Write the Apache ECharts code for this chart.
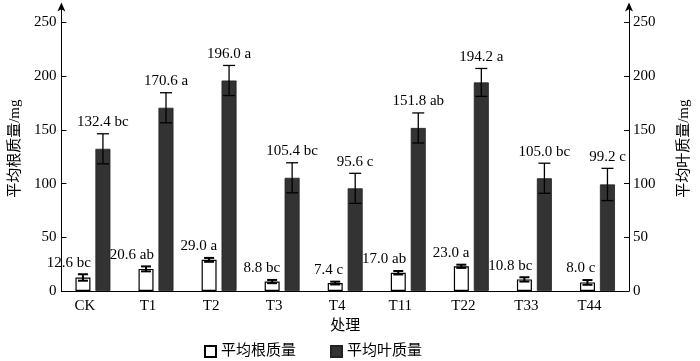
<!DOCTYPE html>
<html>
<head>
<meta charset="utf-8">
<script src="https://cdn.jsdelivr.net/npm/echarts@6/dist/echarts.min.js"></script>
<style>html,body{margin:0;padding:0;background:#fff;}#c{width:700px;height:361px;}</style>
</head>
<body>
<div id="c"></div>
<script>
const categories = ['CK', 'T1', 'T2', 'T3', 'T4', 'T11', 'T22', 'T33', 'T44'];
const rootMass = [12.6, 20.6, 29.0, 8.8, 7.4, 17.0, 23.0, 10.8, 8.0];
const rootErr = [3.0, 2.3, 1.8, 1.5, 1.3, 1.6, 1.5, 2.0, 2.2];
const rootLetters = ['bc', 'ab', 'a', 'bc', 'c', 'ab', 'a', 'bc', 'c'];
const leafMass = [132.4, 170.6, 196.0, 105.4, 95.6, 151.8, 194.2, 105.0, 99.2];
const leafErr = [14, 14, 14, 14, 14, 14, 13, 14, 15];
const leafLetters = ['bc', 'a', 'a', 'bc', 'c', 'ab', 'a', 'bc', 'c'];
const yTicks = [0, 50, 100, 150, 200, 250];

const FONT = '"Liberation Serif", "Noto Sans CJK SC", serif';

function errRender(offset, capHalf, lw, letters, align, labelDx) {
  return function (params, api) {
    const i = api.value(0), v = api.value(1), e = api.value(2);
    const x = api.coord([i, 0])[0] + offset;
    const yTop = api.coord([i, v + e])[1];
    const yBot = api.coord([i, v - e])[1];
    const st = { stroke: '#000', lineWidth: lw };
    return {
      type: 'group',
      children: [
        { type: 'line', shape: { x1: x, y1: yTop, x2: x, y2: yBot }, style: st },
        { type: 'line', shape: { x1: x - capHalf, y1: yTop, x2: x + capHalf, y2: yTop }, style: st },
        { type: 'line', shape: { x1: x - capHalf, y1: yBot, x2: x + capHalf, y2: yBot }, style: st },
        { type: 'text', style: { text: v.toFixed(1) + ' ' + letters[i], x: x + labelDx, y: yTop - 4,
            align: align, verticalAlign: 'bottom', fontSize: 15, fontFamily: FONT, fill: '#000' } }
      ]
    };
  };
}

const chart = echarts.init(document.getElementById('c'));
const yAxisCommon = {
  type: 'value', min: 0, max: 265, interval: 50,
  nameLocation: 'middle', nameRotate: 90,
  nameTextStyle: { fontSize: 15, fontFamily: FONT, color: '#000' },
  axisLine: { show: true, lineStyle: { color: '#000', width: 1 }, symbol: ['none', 'arrow'], symbolSize: [6, 9], symbolOffset: [0, 4] },
  axisTick: { show: true, inside: true, length: 5, lineStyle: { color: '#000' }, customValues: yTicks },
  axisLabel: { fontSize: 15, fontFamily: FONT, color: '#000', margin: 5, customValues: yTicks },
  splitLine: { show: false }
};
chart.setOption({
  animation: false,
  backgroundColor: '#fff',
  grid: { left: 57, right: 57, top: 6.4, bottom: 70 },
  legend: {
    data: ['平均根质量', '平均叶质量'],
    left: 199, top: 339,
    itemWidth: 11, itemHeight: 11, itemGap: 34,
    textStyle: { fontSize: 15, fontFamily: FONT, color: '#000' },
    icon: 'rect'
  },
  xAxis: {
    type: 'category', data: categories,
    name: '处理', nameLocation: 'middle', nameGap: 24,
    nameTextStyle: { fontSize: 15, fontFamily: FONT, color: '#000' },
    axisLine: { lineStyle: { color: '#000', width: 1 } },
    axisTick: { show: false },
    axisLabel: { fontSize: 15, fontFamily: FONT, color: '#000', margin: 8, padding: [0, 16, 0, 0] }
  },
  yAxis: [
    Object.assign({}, yAxisCommon, { position: 'left', name: '平均根质量/mg', nameGap: 38 }),
    Object.assign({}, yAxisCommon, { position: 'right', name: '平均叶质量/mg', nameGap: 48,
      axisLabel: Object.assign({}, yAxisCommon.axisLabel, { margin: 4 }) })
  ],
  series: [
    { name: '平均根质量', type: 'bar', data: rootMass, barWidth: 15, barGap: '33%', z: 2,
      itemStyle: { color: '#fff', borderColor: '#000', borderWidth: 1.2 } },
    { name: '平均叶质量', type: 'bar', data: leafMass, yAxisIndex: 1, barWidth: 15, barGap: '33%', z: 4,
      itemStyle: { color: '#333', borderColor: '#222', borderWidth: 0.8 } },
    { name: 'rootErr', type: 'custom', z: 3, clip: false,
      data: categories.map((c, i) => [i, rootMass[i], rootErr[i]]),
      encode: { x: 0, y: 1 },
      renderItem: errRender(-10, 5, 2, rootLetters, 'right', 8) },
    { name: 'leafErr', type: 'custom', z: 5, yAxisIndex: 1, clip: false,
      data: categories.map((c, i) => [i, leafMass[i], leafErr[i]]),
      encode: { x: 0, y: 1 },
      renderItem: errRender(10, 6, 1.3, leafLetters, 'center', 0) }
  ]
});
</script>
</body>
</html>
